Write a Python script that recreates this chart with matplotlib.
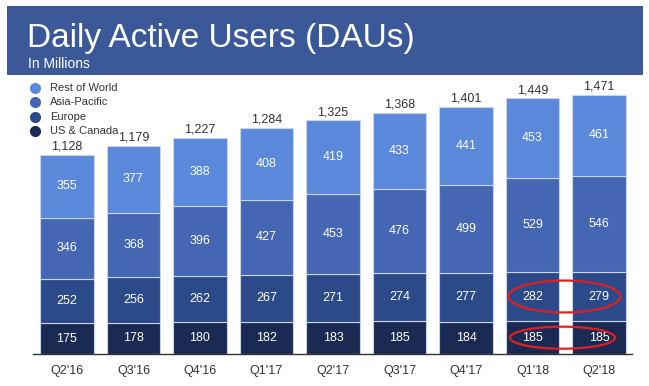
import matplotlib
matplotlib.use("Agg")
import matplotlib.pyplot as plt
from matplotlib.patches import Rectangle, Ellipse
import numpy as np

plt.rcParams['font.family'] = ['Liberation Sans', 'DejaVu Sans']

quarters = ["Q2'16", "Q3'16", "Q4'16", "Q1'17", "Q2'17", "Q3'17", "Q4'17", "Q1'18", "Q2'18"]
us_canada = [175, 178, 180, 182, 183, 185, 184, 185, 185]
europe = [252, 256, 262, 267, 271, 274, 277, 282, 279]
asia_pacific = [346, 368, 396, 427, 453, 476, 499, 529, 546]
rest_of_world = [355, 377, 388, 408, 419, 433, 441, 453, 461]
totals = [1128, 1179, 1227, 1284, 1325, 1368, 1401, 1449, 1471]

series = [
    ("US & Canada", us_canada, "#1a2a52"),
    ("Europe", europe, "#2c4a8a"),
    ("Asia-Pacific", asia_pacific, "#4466b3"),
    ("Rest of World", rest_of_world, "#5a88db"),
]

W, H = 649, 386
fig = plt.figure(figsize=(W / 100, H / 100), dpi=100)
fig.patch.set_facecolor("white")

# Banner
fig.patches.append(Rectangle((7 / W, 1 - 75 / H), 636 / W, 69 / H, transform=fig.transFigure,
                             facecolor="#3b5998", edgecolor="none", zorder=0))
fig.text(27 / W, 1 - 47 / H, "Daily Active Users (DAUs)", color="white", fontsize=24,
         va="baseline", ha="left")
fig.text(28 / W, 1 - 68 / H, "In Millions", color="white", fontsize=10, va="baseline", ha="left")

ax = fig.add_axes([33 / W, 1 - 354 / H, (632 - 33) / W, (354 - 75) / H])
ax.set_facecolor("none")
x = np.arange(len(quarters))
bottom = np.zeros(len(quarters))
for name, vals, col in series:
    vals = np.array(vals)
    ax.bar(x, vals, 0.80, bottom=bottom, color=col, edgecolor="#c8d4ea", linewidth=0.8, label=name)
    for xi, b, v in zip(x, bottom, vals):
        ax.text(xi, b + v / 2, f"{v}", ha="center", va="center", color="white", fontsize=9)
    bottom += vals

for xi, t in zip(x, totals):
    ax.text(xi, t + 12, f"{t:,}", ha="center", va="bottom", color="#333333", fontsize=9)

ax.set_xlim(-0.511, 8.496)
ax.set_ylim(0, 1582)
ax.set_xticks(x)
ax.set_xticklabels(quarters, fontsize=9, color="#333333")
ax.tick_params(axis="x", length=0, pad=8)
ax.set_yticks([])
for s in ["top", "right", "left"]:
    ax.spines[s].set_visible(False)
ax.spines["bottom"].set_color("#333333")
ax.spines["bottom"].set_linewidth(1.0)

# Highlight ellipses
eu_center = us_canada[7] + europe[7] / 2
us_center = us_canada[7] / 2
ax.add_patch(Ellipse((7.48, eu_center), 1.68, 181, fill=False, edgecolor="#e02020", linewidth=1.6,
                     clip_on=False, zorder=5))
ax.add_patch(Ellipse((7.45, us_center), 1.58, 125, fill=False, edgecolor="#e02020", linewidth=1.6,
                     clip_on=False, zorder=5))

# Legend
leg_items = [(n, c) for n, _, c in series][::-1]
for i, (lab, col) in enumerate(leg_items):
    yy = 1 - (88 + 14.3 * i) / H
    fig.text(50 / W, yy, lab, fontsize=8, color="#333333", va="center", ha="left")
    fig.add_artist(plt.Line2D([35 / W], [yy], marker="o", markersize=7, color=col,
                              transform=fig.transFigure, linestyle="none"))

fig.savefig("out.png", dpi=100)
